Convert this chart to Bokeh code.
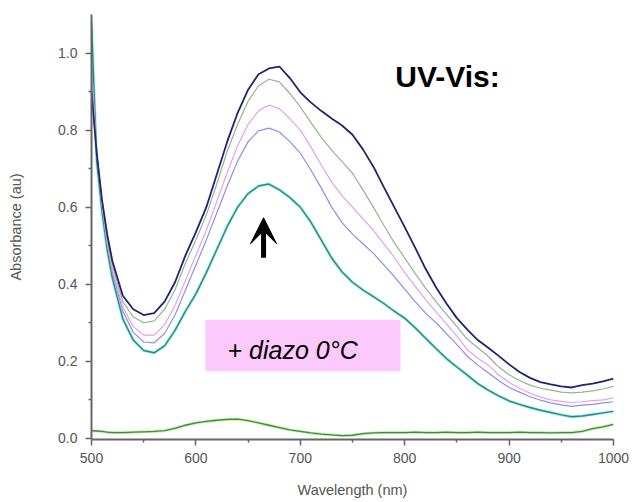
from bokeh.plotting import figure
from bokeh.models import FixedTicker, Arrow, VeeHead, Label
from bokeh.embed import file_html
from bokeh.resources import INLINE

# ---- data ----
wavelength = [500, 505, 510, 515, 520, 530, 540, 550, 560, 570, 580, 590, 600, 610, 620, 630,
              640, 650, 660, 670, 680, 690, 700, 710, 720, 730, 740, 750, 760, 770, 780, 790,
              800, 810, 820, 830, 840, 850, 860, 870, 880, 890, 900, 910, 920, 930, 940, 950,
              960, 970, 980, 990, 1000]

abs_navy = [0.90, 0.74, 0.62, 0.53, 0.46, 0.37, 0.335, 0.32, 0.325, 0.355, 0.405, 0.475, 0.535, 0.60, 0.685, 0.77,
            0.845, 0.905, 0.945, 0.96, 0.965, 0.935, 0.898, 0.872, 0.85, 0.83, 0.812, 0.788, 0.75, 0.705, 0.652, 0.60,
            0.548, 0.495, 0.44, 0.392, 0.35, 0.312, 0.282, 0.255, 0.235, 0.214, 0.192, 0.172, 0.157, 0.146, 0.14, 0.135,
            0.132, 0.138, 0.142, 0.148, 0.155]

abs_green = [0.92, 0.74, 0.615, 0.52, 0.45, 0.355, 0.315, 0.30, 0.305, 0.335, 0.385, 0.455, 0.515, 0.58, 0.66, 0.745,
             0.815, 0.875, 0.915, 0.932, 0.925, 0.895, 0.86, 0.82, 0.782, 0.748, 0.718, 0.688, 0.645, 0.60, 0.553, 0.508,
             0.468, 0.428, 0.39, 0.355, 0.322, 0.29, 0.257, 0.235, 0.213, 0.185, 0.165, 0.15, 0.138, 0.13, 0.125, 0.12,
             0.118, 0.12, 0.123, 0.128, 0.135]

abs_pink = [0.95, 0.74, 0.61, 0.51, 0.44, 0.34, 0.29, 0.268, 0.268, 0.295, 0.345, 0.41, 0.475, 0.54, 0.615, 0.69,
            0.76, 0.815, 0.85, 0.865, 0.855, 0.83, 0.80, 0.757, 0.71, 0.665, 0.63, 0.60, 0.57, 0.54, 0.505, 0.47,
            0.43, 0.395, 0.36, 0.328, 0.297, 0.265, 0.23, 0.208, 0.19, 0.165, 0.145, 0.13, 0.117, 0.107, 0.10, 0.096,
            0.093, 0.095, 0.098, 0.10, 0.105]

abs_lavender = [0.97, 0.74, 0.605, 0.505, 0.43, 0.33, 0.275, 0.25, 0.248, 0.272, 0.32, 0.385, 0.45, 0.515, 0.585, 0.655,
                0.72, 0.77, 0.798, 0.805, 0.795, 0.77, 0.74, 0.697, 0.65, 0.60, 0.56, 0.53, 0.505, 0.48, 0.45, 0.42,
                0.387, 0.355, 0.325, 0.30, 0.272, 0.243, 0.213, 0.19, 0.17, 0.15, 0.132, 0.12, 0.108, 0.099, 0.092, 0.087,
                0.083, 0.086, 0.088, 0.092, 0.095]

abs_teal = [1.08, 0.72, 0.59, 0.49, 0.415, 0.31, 0.255, 0.228, 0.222, 0.24, 0.28, 0.33, 0.375, 0.43, 0.49, 0.55,
            0.60, 0.635, 0.655, 0.66, 0.645, 0.625, 0.60, 0.562, 0.515, 0.468, 0.432, 0.405, 0.385, 0.368, 0.35, 0.33,
            0.312, 0.287, 0.26, 0.233, 0.207, 0.185, 0.164, 0.142, 0.125, 0.11, 0.097, 0.088, 0.08, 0.073, 0.067, 0.061,
            0.056, 0.058, 0.062, 0.066, 0.07]

abs_base = [0.020, 0.019, 0.018, 0.016, 0.015, 0.015, 0.016, 0.017, 0.018, 0.020, 0.026, 0.034, 0.040, 0.044, 0.047, 0.049,
            0.050, 0.046, 0.040, 0.034, 0.028, 0.022, 0.018, 0.014, 0.011, 0.009, 0.007, 0.008, 0.012, 0.014, 0.015, 0.015,
            0.015, 0.016, 0.015, 0.015, 0.016, 0.015, 0.015, 0.016, 0.015, 0.015, 0.015, 0.016, 0.015, 0.015, 0.014, 0.015,
            0.015, 0.018, 0.025, 0.030, 0.036]

x_ticks = [500, 600, 700, 800, 900, 1000]
x_minor = [550, 650, 750, 850, 950]
y_ticks = [0.0, 0.2, 0.4, 0.6, 0.8, 1.0]
y_minor = [0.1, 0.3, 0.5, 0.7, 0.9]

FONT = "Liberation Sans"

p = figure(width=632, height=500, x_range=(500, 1000), y_range=(-0.003, 1.10),
           output_backend="svg", toolbar_location=None,
           min_border_left=91, min_border_right=19, min_border_top=14, min_border_bottom=60)
p.outline_line_color = None
p.grid.visible = False
p.background_fill_color = "white"

# annotation box behind curves
p.quad(left=[609], right=[796], bottom=[0.174], top=[0.308], fill_color="#fbc9fb", line_color=None)

p.line(wavelength, abs_base, line_color="#c8f0b0", line_width=3)
p.line(wavelength, abs_base, line_color="#3c8c3c", line_width=1.3)
p.line(wavelength, abs_teal, line_color="#a0eeee", line_width=3)
p.line(wavelength, abs_teal, line_color="#2c8a7e", line_width=1.4)
p.line(wavelength, abs_lavender, line_color="#8f8fe6", line_width=1.2)
p.line(wavelength, abs_pink, line_color="#e7a0e7", line_width=1.2)
p.line(wavelength, abs_green, line_color="#93b58f", line_width=1.2)
p.line(wavelength, abs_navy, line_color="#232370", line_width=1.8)

p.add_layout(Arrow(end=VeeHead(size=26, fill_color="black", line_color="black"),
                   x_start=664.8, y_start=0.469, x_end=664.8, y_end=0.5725,
                   line_color="black", line_width=5))

p.add_layout(Label(x=791, y=0.938, text="UV-Vis:", text_font=FONT, text_font_size="30px",
                   text_font_style="bold", text_color="black", text_baseline="middle"))
p.add_layout(Label(x=630.3, y=0.23, text="+ diazo 0°C", text_font=FONT, text_font_size="25px",
                   text_font_style="italic", text_color="black", text_baseline="middle"))

for ax in (p.xaxis[0], p.yaxis[0]):
    ax.axis_line_color = "#666666"
    ax.axis_line_width = 2
    ax.major_tick_line_color = "#666666"
    ax.minor_tick_line_color = "#666666"
    ax.major_tick_line_width = 1.5
    ax.minor_tick_line_width = 1.5
    ax.major_tick_in = 0
    ax.major_tick_out = 6
    ax.minor_tick_in = 0
    ax.minor_tick_out = 3
    ax.major_label_text_font = FONT
    ax.major_label_text_font_size = "14px"
    ax.major_label_text_color = "#555555"
    ax.axis_label_text_font = FONT
    ax.axis_label_text_font_size = "14.5px"
    ax.axis_label_text_font_style = "normal"
    ax.axis_label_text_color = "#555555"

p.xaxis.ticker = FixedTicker(ticks=x_ticks, minor_ticks=x_minor)
p.yaxis.ticker = FixedTicker(ticks=y_ticks, minor_ticks=y_minor)
p.yaxis.major_label_overrides = {v: f"{v:.1f}" for v in y_ticks}
p.xaxis.axis_label = "Wavelength (nm)"
p.yaxis.axis_label = "Absorbance (au)"
p.xaxis.major_label_standoff = 7
p.yaxis.major_label_standoff = 8
p.xaxis.axis_label_standoff = 16
p.yaxis.axis_label_standoff = 31

open("out.html", "w").write(file_html(p, INLINE))
